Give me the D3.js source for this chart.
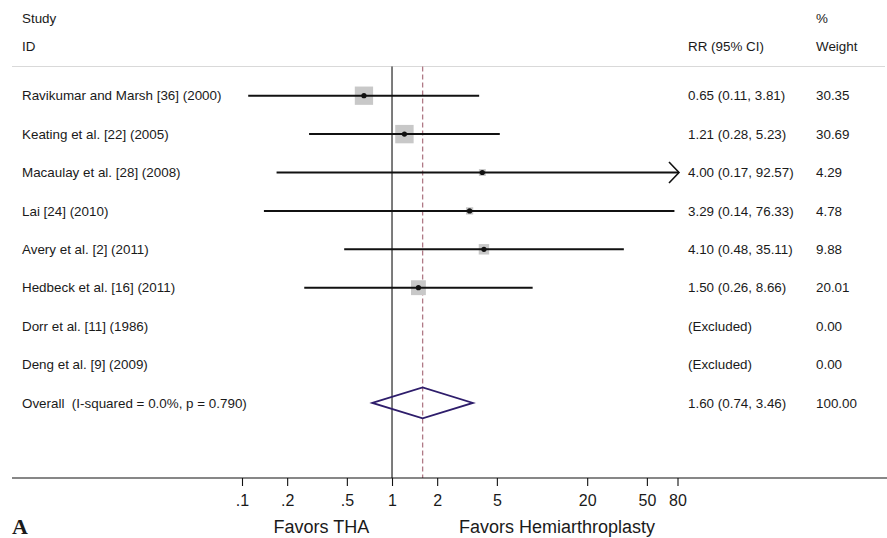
<!DOCTYPE html>
<html>
<head>
<meta charset="utf-8">
<script src="https://cdn.jsdelivr.net/npm/d3@7/dist/d3.min.js"></script>
<style>
  html, body { margin: 0; padding: 0; background: #fff; }
  svg { display: block; }
  text { font-family: "Liberation Sans", Arial, Helvetica, sans-serif; fill: #1a1a1a; }
</style>
</head>
<body>
<svg id="chart" width="887" height="538"></svg>
<script>
const studies = [
  "Ravikumar and Marsh [36] (2000)",
  "Keating et al. [22] (2005)",
  "Macaulay et al. [28] (2008)",
  "Lai [24] (2010)",
  "Avery et al. [2] (2011)",
  "Hedbeck et al. [16] (2011)",
  "Dorr et al. [11] (1986)",
  "Deng et al. [9] (2009)"
];
const rr     = [0.65, 1.21, 4.00, 3.29, 4.10, 1.50, null, null];
const lower  = [0.11, 0.28, 0.17, 0.14, 0.48, 0.26, null, null];
const upper  = [3.81, 5.23, 92.57, 76.33, 35.11, 8.66, null, null];
const weights = [30.35, 30.69, 4.29, 4.78, 9.88, 20.01, 0.00, 0.00];
const overallLabel = "Overall\u00a0\u00a0(I-squared = 0.0%, p = 0.790)";
const overall = { rr: 1.60, lower: 0.74, upper: 3.46, weight: 100.00 };
const tickValues = [0.1, 0.2, 0.5, 1, 2, 5, 20, 50, 80];
const tickLabels = [".1", ".2", ".5", "1", "2", "5", "20", "50", "80"];
const nullValue = 1;
const axisLeftLabel = "Favors THA";
const axisRightLabel = "Favors Hemiarthroplasty";
const panelLabel = "A";

const svg = d3.select("#chart");
const fmt = d3.format(".2f");

const x = d3.scaleLog().domain([0.1, 80]).range([242, 677.5]);
const rowIdx = d3.range(studies.length + 1);
const y = d3.scalePoint().domain(rowIdx).range([95.7, 402.9]);
const boxSide = d3.scaleSqrt().domain([0, 30.69]).range([0, 18.4]);

const axisY = 478;
const headerLineY = 66.5;
const fs = 13.4;
const colStudy = 22, colRR = 688, colW = 816;

// header
svg.append("text").attr("x", colStudy).attr("y", 18).attr("dy", "0.35em").style("font-size", fs + "px").text("Study");
svg.append("text").attr("x", colStudy).attr("y", 46.5).attr("dy", "0.35em").style("font-size", fs + "px").text("ID");
svg.append("text").attr("x", colRR).attr("y", 46.5).attr("dy", "0.35em").style("font-size", fs + "px").text("RR (95% CI)");
svg.append("text").attr("x", colW).attr("y", 18).attr("dy", "0.35em").style("font-size", fs + "px").text("%");
svg.append("text").attr("x", colW).attr("y", 46.5).attr("dy", "0.35em").style("font-size", fs + "px").text("Weight");

svg.append("line").attr("x1", 12).attr("x2", 885).attr("y1", headerLineY).attr("y2", headerLineY)
  .attr("stroke", "#d9d9d9").attr("stroke-width", 1.2);

// null line
svg.append("line").attr("x1", x(nullValue)).attr("x2", x(nullValue))
  .attr("y1", headerLineY).attr("y2", axisY).attr("stroke", "#111").attr("stroke-width", 1.1);

// overall dashed line
svg.append("line").attr("x1", x(overall.rr)).attr("x2", x(overall.rr))
  .attr("y1", headerLineY).attr("y2", axisY).attr("stroke", "#b07a86").attr("stroke-width", 1.3)
  .attr("stroke-dasharray", "5,3");

// study rows
const rows = studies.map((s, i) => ({ s, i, rr: rr[i], lo: lower[i], hi: upper[i], w: weights[i] }));

const g = svg.append("g");
rows.forEach(d => {
  const yy = y(d.i);
  g.append("text").attr("x", colStudy).attr("y", yy).attr("dy", "0.35em").style("font-size", fs + "px").text(d.s);
  g.append("text").attr("x", colRR).attr("y", yy).attr("dy", "0.35em").style("font-size", fs + "px")
    .text(d.rr == null ? "(Excluded)" : `${fmt(d.rr)} (${fmt(d.lo)}, ${fmt(d.hi)})`);
  g.append("text").attr("x", colW).attr("y", yy).attr("dy", "0.35em").style("font-size", fs + "px").text(fmt(d.w));
  if (d.rr == null) return;
  const side = boxSide(d.w);
  g.append("rect").attr("x", x(d.rr) - side / 2).attr("y", yy - side / 2)
    .attr("width", side).attr("height", side).attr("fill", "#c8c8c8");
  const xMax = x.domain()[1];
  const clipped = d.hi > xMax;
  const x2 = clipped ? x(xMax) + 1.5 : x(d.hi);
  g.append("line").attr("x1", x(Math.max(d.lo, x.domain()[0]))).attr("x2", x2)
    .attr("y1", yy).attr("y2", yy).attr("stroke", "#111").attr("stroke-width", 2);
  if (clipped) {
    g.append("path").attr("d", `M${x2 - 10},${yy - 10.5}L${x2},${yy}L${x2 - 10},${yy + 10.5}`)
      .attr("fill", "none").attr("stroke", "#111").attr("stroke-width", 1.6);
  }
  g.append("circle").attr("cx", x(d.rr)).attr("cy", yy).attr("r", 2.6).attr("fill", "#111");
});

// overall row
const oy = y(studies.length);
svg.append("text").attr("x", colStudy).attr("y", oy).attr("dy", "0.35em").style("font-size", fs + "px").text(overallLabel);
svg.append("text").attr("x", colRR).attr("y", oy).attr("dy", "0.35em").style("font-size", fs + "px")
  .text(`${fmt(overall.rr)} (${fmt(overall.lower)}, ${fmt(overall.upper)})`);
svg.append("text").attr("x", colW).attr("y", oy).attr("dy", "0.35em").style("font-size", fs + "px").text(fmt(overall.weight));
const dh = 15.5;
svg.append("path")
  .attr("d", `M${x(overall.lower)},${oy}L${x(overall.rr)},${oy - dh}L${x(overall.upper)},${oy}L${x(overall.rr)},${oy + dh}Z`)
  .attr("fill", "none").attr("stroke", "#2e1d6b").attr("stroke-width", 1.8);

// axis
svg.append("line").attr("x1", 12).attr("x2", 887).attr("y1", axisY).attr("y2", axisY)
  .attr("stroke", "#111").attr("stroke-width", 1.2);
const axis = d3.axisBottom(x).tickValues(tickValues)
  .tickFormat((d, i) => tickLabels[i]).tickSize(8).tickPadding(9);
const ag = svg.append("g").attr("transform", `translate(0,${axisY})`).call(axis);
ag.select(".domain").remove();
ag.selectAll(".tick line").attr("stroke", "#111").attr("stroke-width", 1.1);
ag.selectAll(".tick text").style("font-size", "16px").attr("fill", "#1a1a1a")
  .style("font-family", '"Liberation Sans", Arial, Helvetica, sans-serif');

svg.append("text").attr("x", 273.5).attr("y", 527).attr("dy", "0.35em").style("font-size", "18px").text(axisLeftLabel);
svg.append("text").attr("x", 459).attr("y", 527).attr("dy", "0.35em").style("font-size", "18px").text(axisRightLabel);

svg.append("text").attr("x", 12).attr("y", 534)
  .style("font-family", '"Liberation Serif", "Times New Roman", serif')
  .style("font-weight", "bold").style("font-size", "22px").text(panelLabel);
</script>
</body>
</html>
